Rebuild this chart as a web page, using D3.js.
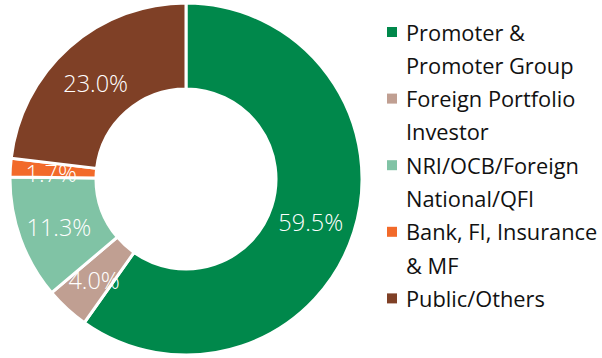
<!DOCTYPE html>
<html>
<head>
<meta charset="utf-8">
<script src="https://cdn.jsdelivr.net/npm/d3@7"></script>
<style>
  html, body { margin: 0; padding: 0; background: #fff; }
  svg { display: block; font-family: "Open Sans", "Noto Sans", sans-serif; }
</style>
</head>
<body>
<svg id="chart" width="602" height="358"></svg>
<script>
// Shareholding pattern (%)
const categories = [
  ["Promoter &", "Promoter Group"],
  ["Foreign Portfolio", "Investor"],
  ["NRI/OCB/Foreign", "National/QFI"],
  ["Bank, FI, Insurance", "& MF"],
  ["Public/Others"]
];
const shares = [59.5, 4.0, 11.3, 1.7, 23.0];
const labels = ["59.5%", "4.0%", "11.3%", "1.7%", "23.0%"];
const colors = ["#00884b", "#c09f92", "#80c3a5", "#f26a2a", "#7f4026"];

const svg = d3.select("#chart");
const cx = 186, cy = 179, outerR = 176, innerR = 90;

const pie = d3.pie().sort(null).value(d => d);
const arcs = pie(shares);
const arc = d3.arc().innerRadius(innerR).outerRadius(outerR);
const labelArc = d3.arc().innerRadius(133).outerRadius(133);

const g = svg.append("g").attr("transform", `translate(${cx},${cy})`);

g.selectAll("path.slice")
  .data(arcs)
  .join("path")
  .attr("class", "slice")
  .attr("d", arc)
  .attr("fill", (d, i) => colors[i])
  .attr("stroke", "#fff")
  .attr("stroke-width", 3)
  .attr("stroke-linejoin", "miter");

g.selectAll("text.val")
  .data(arcs)
  .join("text")
  .attr("class", "val")
  .attr("transform", d => { const c = labelArc.centroid(d); return `translate(${c[0] - 2},${c[1] + 3})`; })
  .attr("text-anchor", "middle")
  .attr("dominant-baseline", "central")
  .attr("fill", "#fff")
  .attr("font-size", 23.5)
  .attr("font-weight", 350)
  .text((d, i) => labels[i]);

// Legend
const legend = svg.append("g").attr("transform", "translate(387,0)");
const lineH = 33.3;
let row = 0;
categories.forEach((lines, i) => {
  const y0 = 32 + row * lineH;
  legend.append("rect")
    .attr("x", 0).attr("y", y0 - 5)
    .attr("width", 10).attr("height", 10)
    .attr("fill", colors[i]);
  lines.forEach((t, j) => {
    legend.append("text")
      .attr("x", 19)
      .attr("y", y0 + j * lineH)
      .attr("dominant-baseline", "central")
      .attr("font-size", 21.8)
      .attr("fill", "#111")
      .text(t);
  });
  row += lines.length;
});
</script>
</body>
</html>
